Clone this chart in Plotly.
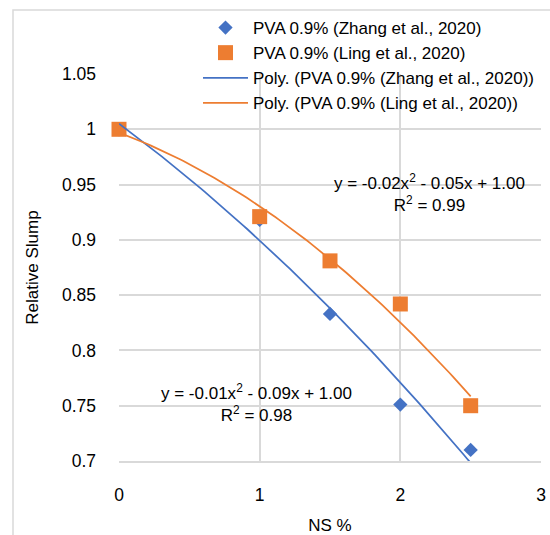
import numpy as np
import plotly.graph_objects as go

ns = [0, 1, 1.5, 2, 2.5]
zhang = [1.000, 0.918, 0.833, 0.751, 0.710]
ling = [1.000, 0.921, 0.881, 0.842, 0.750]
xticks = [0, 1, 2, 3]
yticks = [0.7, 0.75, 0.8, 0.85, 0.9, 0.95, 1.0, 1.05]
ytext = ["0.7", "0.75", "0.8", "0.85", "0.9", "0.95", "1", "1.05"]

BLUE = "#4472C4"
ORANGE = "#ED7D31"
GRID = "#d9d9d9"
FONT = "Liberation Sans"

xs = np.linspace(min(ns), max(ns), 100)
fz = np.polyval(np.polyfit(ns, zhang, 2), xs)
fl = np.polyval(np.polyfit(ns, ling, 2), xs)

fig = go.Figure()
fig.add_trace(go.Scatter(x=ns, y=zhang, mode="markers", name="PVA 0.9% (Zhang et al., 2020)",
                         marker=dict(symbol="diamond", size=11, color=BLUE), cliponaxis=False))
fig.add_trace(go.Scatter(x=ns, y=ling, mode="markers", name="PVA 0.9% (Ling et al., 2020)",
                         marker=dict(symbol="square", size=15, color=ORANGE), cliponaxis=False))
fig.add_trace(go.Scatter(x=xs, y=fz, mode="lines", name="Poly. (PVA 0.9% (Zhang et al., 2020))",
                         line=dict(color=BLUE, width=1.75)))
fig.add_trace(go.Scatter(x=xs, y=fl, mode="lines", name="Poly. (PVA 0.9% (Ling et al., 2020))",
                         line=dict(color=ORANGE, width=1.75)))

fig.add_annotation(x=2.21, y=0.942, xref="x", yref="y", showarrow=False,
                   text="y = -0.02x<sup>2</sup> - 0.05x + 1.00<br>R<sup>2</sup> = 0.99",
                   font=dict(size=17, color="#000", family=FONT), align="center")
fig.add_annotation(x=0.975, y=0.7525, xref="x", yref="y", showarrow=False,
                   text="y = -0.01x<sup>2</sup> - 0.09x + 1.00<br>R<sup>2</sup> = 0.98",
                   font=dict(size=17, color="#000", family=FONT), align="center")

# chart border
fig.add_shape(type="rect", xref="paper", yref="paper",
              x0=(13 - 119) / 422, x1=(560 - 119) / 422,
              y0=(461 - 545) / 387, y1=(461 - 10) / 387,
              line=dict(color=GRID, width=1.5), fillcolor="rgba(0,0,0,0)", layer="below")

fig.update_layout(
    width=550, height=535,
    margin=dict(l=119, r=9, t=74, b=74),
    paper_bgcolor="white", plot_bgcolor="white",
    font=dict(family=FONT, size=17, color="#000"),
    showlegend=True,
    legend=dict(x=(198 - 119) / 422, y=(461 - 10) / 387, xanchor="left", yanchor="top",
                bgcolor="rgba(0,0,0,0)", font=dict(size=17, family=FONT),
                tracegroupgap=0, itemwidth=45),
    xaxis=dict(range=[0, 3], tickvals=xticks, showgrid=True, gridcolor=GRID, gridwidth=1.5,
               zeroline=False, showline=True, linecolor=GRID, linewidth=1.5, mirror=False,
               ticks="", tickfont=dict(size=17.5), ticklabelstandoff=17, automargin=False,
               title=dict(text="NS %", font=dict(size=17), standoff=19)),
    yaxis=dict(range=[0.7, 1.05], tickvals=yticks, ticktext=ytext, showgrid=True, gridcolor=GRID,
               gridwidth=1.5, zeroline=False, showline=False, ticks="", tickfont=dict(size=17.5),
               ticklabelstandoff=22, automargin=False,
               title=dict(text="Relative Slump", font=dict(size=17), standoff=18)),
)

fig.write_html("out.html")
